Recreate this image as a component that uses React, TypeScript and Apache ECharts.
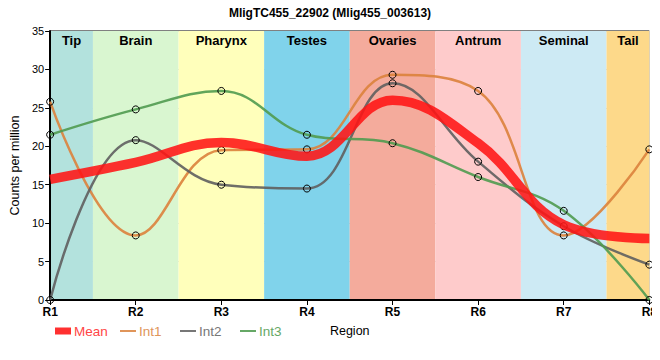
import { useEffect, useRef } from 'react';
import * as echarts from 'echarts';

const regions = [1, 2, 3, 4, 5, 6, 7, 8];
const regionLabels = ['R1', 'R2', 'R3', 'R4', 'R5', 'R6', 'R7', 'R8'];
const meanValues = [15.7, 17.9, 20.5, 18.7, 26.0, 20.4, 9.8, 8.0];
const int1Values = [25.8, 8.4, 19.5, 19.6, 29.3, 27.2, 8.4, 19.6];
const int2Values = [0, 20.8, 15.0, 14.5, 28.2, 18.0, 9.6, 4.6];
const int3Values = [21.5, 24.8, 27.2, 21.5, 20.4, 16.0, 11.6, 0];
const bandNames = ['Tip', 'Brain', 'Pharynx', 'Testes', 'Ovaries', 'Antrum', 'Seminal', 'Tail'];
const bandColors = ['#b3e2dd', '#d9f6d0', '#ffffbb', '#80d3eb', '#f4ab9c', '#fecbcb', '#cdeaf4', '#fdd98a'];
const yTicks = [0, 5, 10, 15, 20, 25, 30, 35];
const legendNames = ['Mean', 'Int1', 'Int2', 'Int3'];
const legendIconColors = ['#ff3030', '#e0955a', '#777777', '#66a866'];
const legendTextColors = ['#ff4545', '#e0955a', '#777777', '#66a866'];

const FONT = 'Arial, "Liberation Sans", sans-serif';

export default function App() {
  const ref = useRef<HTMLDivElement>(null);
  useEffect(() => {
    if (!ref.current) return;
    const chart = echarts.init(ref.current, null, { renderer: 'svg' });
    const xMin = regions[0];
    const xMax = regions[regions.length - 1];
    const bands = regions.map((r, i) => [
      {
        xAxis: Math.max(xMin, r - 0.5),
        name: bandNames[i],
        itemStyle: { color: bandColors[i] },
      },
      { xAxis: Math.min(xMax, r + 0.5) },
    ]);
    const pts = (vals: number[]) => regions.map((r, i) => [r, vals[i]]);
    const symbolStyle = { color: 'rgba(0,0,0,0)', borderColor: '#000', borderWidth: 1 };

    const legendIconX = [55, 120, 180, 240];
    const legendY = 331;
    const legendGraphic: any[] = [];
    legendNames.forEach((name, i) => {
      const isMean = i === 0;
      const h = isMean ? 7 : 2;
      legendGraphic.push({
        type: 'rect',
        silent: true,
        shape: { x: legendIconX[i], y: legendY - h / 2, width: 16, height: h },
        style: { fill: legendIconColors[i] },
      });
      legendGraphic.push({
        type: 'text',
        silent: true,
        x: legendIconX[i] + 19,
        y: legendY,
        style: {
          text: name,
          fill: legendTextColors[i],
          font: `13.5px ${FONT}`,
          verticalAlign: 'middle',
          align: 'left',
        },
      });
    });

    const option: any = {
      animation: false,
      textStyle: { fontFamily: FONT },
      title: {
        text: 'MligTC455_22902 (Mlig455_003613)',
        left: 'center',
        top: 2,
        textStyle: { fontSize: 12, fontWeight: 'bold', color: '#000', fontFamily: FONT },
      },
      grid: { left: 50, right: 10, top: 31, bottom: 60, show: true, borderColor: '#000', borderWidth: 1, z: 1 },
      graphic: legendGraphic,
      xAxis: {
        type: 'value',
        min: xMin,
        max: xMax,
        interval: 1,
        z: 1,
        name: 'Region',
        nameLocation: 'middle',
        nameGap: 24,
        nameTextStyle: { fontSize: 12.5, color: '#000', fontFamily: FONT },
        axisLine: { show: true, onZero: false, lineStyle: { color: '#000', width: 2 } },
        axisTick: { show: true, length: 5, lineStyle: { color: '#000' } },
        axisLabel: {
          margin: 6,
          fontSize: 12,
          fontWeight: 'bold',
          color: '#000',
          fontFamily: FONT,
          formatter: (v: number) => regionLabels[regions.indexOf(v)] ?? '',
        },
        splitLine: { show: true, lineStyle: { color: '#cccccc', width: 1 } },
      },
      yAxis: {
        type: 'value',
        min: yTicks[0],
        max: yTicks[yTicks.length - 1],
        interval: 5,
        z: 1,
        name: 'Counts per million',
        nameLocation: 'middle',
        nameGap: 22,
        nameTextStyle: { fontSize: 12.5, color: '#000', fontFamily: FONT },
        axisLine: { show: true, lineStyle: { color: '#000', width: 2 } },
        axisTick: { show: true, length: 5, lineStyle: { color: '#000' } },
        axisLabel: { margin: 6, fontSize: 11, color: '#000', fontFamily: FONT },
        splitLine: { show: true, lineStyle: { color: '#cccccc', width: 1 } },
      },
      series: [
        {
          name: 'bands',
          type: 'line',
          data: [],
          z: 0,
          silent: true,
          markArea: {
            silent: true,
            label: {
              show: true,
              position: 'insideTop',
              distance: 3,
              fontSize: 13,
              fontWeight: 'bold',
              color: '#000',
              fontFamily: FONT,
            },
            data: bands,
          },
        },
        {
          name: 'Int1',
          type: 'line',
          data: pts(int1Values),
          smooth: 0.4,
          z: 3,
          symbol: 'circle',
          symbolSize: 7,
          itemStyle: symbolStyle,
          lineStyle: { color: 'rgba(220,130,60,0.9)', width: 2.5 },
        },
        {
          name: 'Int2',
          type: 'line',
          data: pts(int2Values),
          smooth: 0.4,
          z: 3,
          symbol: 'circle',
          symbolSize: 7,
          itemStyle: symbolStyle,
          lineStyle: { color: 'rgba(95,95,95,0.9)', width: 2.5 },
        },
        {
          name: 'Int3',
          type: 'line',
          data: pts(int3Values),
          smooth: 0.4,
          z: 3,
          symbol: 'circle',
          symbolSize: 7,
          itemStyle: symbolStyle,
          lineStyle: { color: 'rgba(80,155,80,0.9)', width: 2.5 },
        },
        {
          name: 'Mean',
          type: 'line',
          data: pts(meanValues),
          smooth: 0.4,
          z: 4,
          showSymbol: false,
          itemStyle: { color: '#ff3030' },
          lineStyle: { color: 'rgba(255,20,20,0.88)', width: 9.5 },
        },
      ],
    };
    chart.setOption(option);
    return () => chart.dispose();
  }, []);
  return <div ref={ref} style={{ width: 660, height: 360, margin: -8 }} />;
}
